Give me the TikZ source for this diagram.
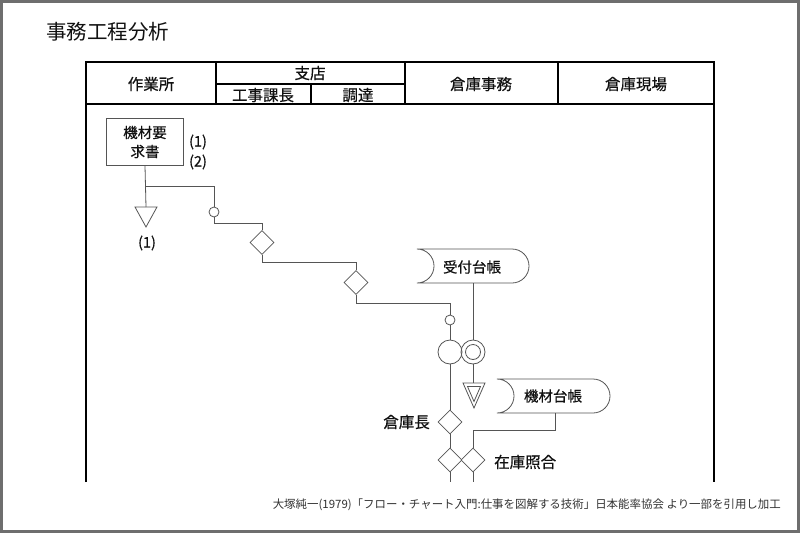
\documentclass[tikz,border=0pt]{standalone}
\usepackage{fontspec}
\usepackage{graphicx}
\usetikzlibrary{shapes.geometric,calc}
\newfontfamily\jp{Noto Sans CJK JP}
\newfontfamily\jpb[FakeBold=0.5]{Noto Sans CJK JP}
\definecolor{frame}{HTML}{6E6E6E}
\definecolor{ln}{HTML}{555555}
\definecolor{txt}{HTML}{111111}
\begin{document}
\begin{tikzpicture}[x=1pt,y=1pt,
  tbl/.style={line width=1.2pt,draw=black},
  fl/.style={line width=0.8pt,draw=ln},
  lbl/.style={font=\jpb\fontsize{15.5}{18}\selectfont,text=txt,inner sep=0pt},
  hdr/.style={font=\jpb\fontsize{15.5}{18}\selectfont,text=txt,inner sep=0pt},
  smallc/.style={circle,draw=ln,line width=0.8pt,minimum size=10pt,inner sep=0pt},
  bigc/.style={circle,draw=ln,line width=0.8pt,minimum size=24pt,inner sep=0pt},
  dia/.style={diamond,draw=ln,line width=0.8pt,minimum width=24pt,minimum height=24pt,inner sep=0pt,fill=white},
  docbox/.style={draw=ln,line width=0.8pt,fill=white}
]
\useasboundingbox (0,0) rectangle (800,-533);
\fill[white] (0,0) rectangle (800,-533);
\draw[line width=3pt,draw=frame] (1.5,-1.5) rectangle (798.5,-531.5);

% title
\node[anchor=west,font=\jp\fontsize{20.5}{23}\selectfont,text=txt,inner sep=0pt] (title) at (46,-32) {事務工程分析};

% table
\draw[tbl] (86,-482) -- (86,-62) -- (714,-62) -- (714,-482);
\draw[tbl] (86,-104) -- (714,-104);
\draw[tbl] (216,-62) -- (216,-104);
\draw[tbl] (405,-62) -- (405,-104);
\draw[tbl] (558,-62) -- (558,-104);
\draw[tbl] (216,-84) -- (405,-84);
\draw[tbl] (311,-84) -- (311,-104);
\node[hdr] (h1) at (151,-84) {作業所};
\node[hdr] (h2) at (310,-73) {支店};
\node[hdr] (h3) at (263,-95) {工事課長};
\node[hdr] (h4) at (358,-95) {調達};
\node[hdr] (h5) at (481,-84) {倉庫事務};
\node[hdr] (h6) at (636,-84) {倉庫現場};

% request form
\node[draw=ln,line width=0.8pt,minimum width=77pt,minimum height=47pt,inner sep=0pt,
      align=center,font=\jpb\fontsize{14.5}{19}\selectfont,text=txt] (box) at (145,-142) {機材要\\求書};
\node[lbl,font=\jpb\fontsize{14.5}{17}\selectfont] (n1) at (198,-142) {(1)};
\node[lbl,font=\jpb\fontsize{14.5}{17}\selectfont] (n2) at (198,-162) {(2)};

% triangle (storage) under the form
\coordinate (t1) at (146,-207);
\draw[fl] (135,-207) -- (157,-207) -- (146,-227) -- cycle;
\node[lbl,font=\jpb\fontsize{14.5}{17}\selectfont] (n3) at (147,-243) {(1)};
\coordinate (b1) at (146,-186);
\draw[fl] (box.south) -- (t1);

\node[smallc] (c1) at (214,-212) {};
\draw[fl] (b1) -| (c1.north);

\node[dia] (d1) at (262,-242.5) {};
\draw[fl] (c1.south) -- ++(0,-6) -| (d1.north);

\node[dia] (d2) at (356,-282.5) {};
\draw[fl] (d1.south) -- ++(0,-7.5) -| (d2.north);

\node[smallc] (c2) at (450,-320) {};
\draw[fl] (d2.south) -- ++(0,-8.5) -| (c2.north);

\node[bigc] (c3) at (450,-352) {};
\draw[fl] (c2.south) -- (c3.north);

\node[dia] (d3) at (450,-422) {};
\draw[fl] (c3.south) -- (d3.north);
\node[lbl,anchor=east] (l1) at (430,-422) {倉庫長};

\node[dia] (d4) at (450,-460) {};
\draw[fl] (d3.south) -- (d4.north);
\coordinate (e1) at (450,-482);
\draw[fl] (d4.south) -- (e1);

% 受付台帳
\draw[docbox] (417,-249) -- (512,-249) arc (90:-90:17) -- (417,-283) arc (-90:90:17) -- cycle;
\node[lbl,font=\jpb\fontsize{14.5}{17}\selectfont] (doc1) at (472,-267) {受付台帳};
\coordinate (doc1b) at (473,-283);

\node[bigc] (c4) at (473,-352) {};
\node[circle,draw=ln,line width=0.8pt,minimum size=15pt,inner sep=0pt] (c4i) at (473,-352) {};
\draw[fl] (doc1b) -- (c4.north);

\coordinate (t2) at (474,-383);
\draw[fl] (463,-383) -- (485,-383) -- (474,-408) -- cycle;
\draw[fl] (467.5,-386.5) -- (480.5,-386.5) -- (474,-401.5) -- cycle;
\draw[fl] (c4.south) -- (c4.south |- t2);

% 機材台帳
\draw[docbox] (497,-379) -- (593,-379) arc (90:-90:17) -- (497,-413) arc (-90:90:17) -- cycle;
\node[lbl,font=\jpb\fontsize{14.5}{17}\selectfont] (doc2) at (553,-396) {機材台帳};
\coordinate (doc2b) at (555,-413);

\node[dia] (d5) at (473,-460) {};
\draw[fl] (doc2b) -- (555,-430) -| (d5.north);
\coordinate (e2) at (473,-482);
\draw[fl] (d5.south) -- (e2);
\node[lbl,anchor=west] (l2) at (494,-462) {在庫照合};

% source note
\node[anchor=east,inner sep=0pt,text=black!80] (src) at (781,-505)
  {\resizebox{508pt}{!}{\jp 大塚純一(1979)「フロー・チャート入門:仕事を図解する技術」日本能率協会 より一部を引用し加工}};
\end{tikzpicture}
\end{document}
